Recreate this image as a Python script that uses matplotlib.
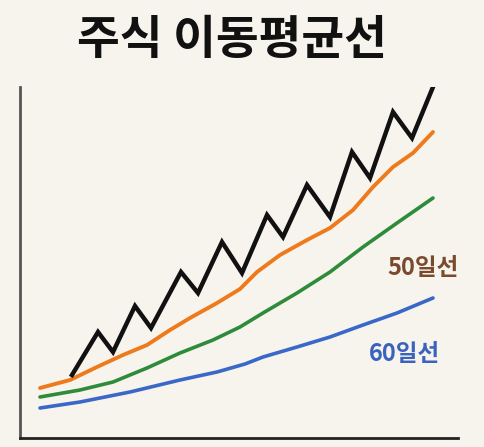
import matplotlib
matplotlib.use('Agg')
import matplotlib.pyplot as plt

# values (x = time step, y = price level above the baseline)
price_x = [72, 98, 113, 135, 151, 181, 198, 222, 242, 267, 283, 307, 330, 352, 370, 393, 412, 433]
price_y = [63, 106, 86, 132, 110, 166, 145, 196, 165, 223, 201, 253, 221, 286, 260, 326, 300, 351]

ma20_x = [40, 70, 97, 123, 147, 170, 190, 217, 240, 257, 280, 307, 330, 353, 373, 393, 413, 433]
ma20_y = [50, 58, 71, 83, 93, 108, 120, 135, 149, 166, 183, 198, 210, 228, 251, 271, 285, 306]

ma50_x = [40, 80, 113, 147, 180, 213, 240, 263, 297, 330, 363, 397, 433]
ma50_y = [41, 48, 56, 70, 85, 98, 111, 125, 145, 166, 191, 215, 240]

ma60_x = [40, 80, 130, 180, 217, 245, 263, 297, 330, 363, 397, 433]
ma60_y = [30, 36, 46, 58, 66, 74, 81, 91, 101, 113, 125, 140]

title = "주식 이동평균선"
label_50 = "50일선"
label_60 = "60일선"

BG = '#f7f4ee'
plt.rcParams['font.family'] = ['Noto Sans CJK KR', 'DejaVu Sans']

fig = plt.figure(figsize=(4.85, 4.47), dpi=100, facecolor=BG)
ax = fig.add_axes([20 / 485, 9 / 447, 438 / 485, 351 / 447])
ax.set_facecolor(BG)

ax.plot(ma60_x, ma60_y, color='#3a68c8', lw=2.6, solid_capstyle='round', solid_joinstyle='round')
ax.plot(ma50_x, ma50_y, color='#2e8b3a', lw=2.6, solid_capstyle='round', solid_joinstyle='round')
ax.plot(ma20_x, ma20_y, color='#ee7a1c', lw=2.8, solid_capstyle='round', solid_joinstyle='round')
ax.plot(price_x, price_y, color='#111111', lw=3.2, solid_joinstyle='miter')

ax.text(423, 170, label_50, color='#7a4a2c', fontsize=17, fontweight='bold',
        ha='center', va='center')
ax.text(405, 84, label_60, color='#3a63c0', fontsize=17, fontweight='bold',
        ha='center', va='center')

ax.set_xlim(20, 458)
ax.set_ylim(0, 351)
ax.set_xticks([])
ax.set_yticks([])
for side in ['top', 'right']:
    ax.spines[side].set_visible(False)
ax.spines['left'].set_color('#555555')
ax.spines['bottom'].set_color('#222222')
ax.spines['left'].set_linewidth(2)
ax.spines['bottom'].set_linewidth(2)

fig.text(232 / 485, 1 - 40 / 447, title, ha='center', va='center',
         fontsize=33.5, fontweight='bold', color='#111111')

plt.savefig('out.png', dpi=100, facecolor=BG)
plt.close()
